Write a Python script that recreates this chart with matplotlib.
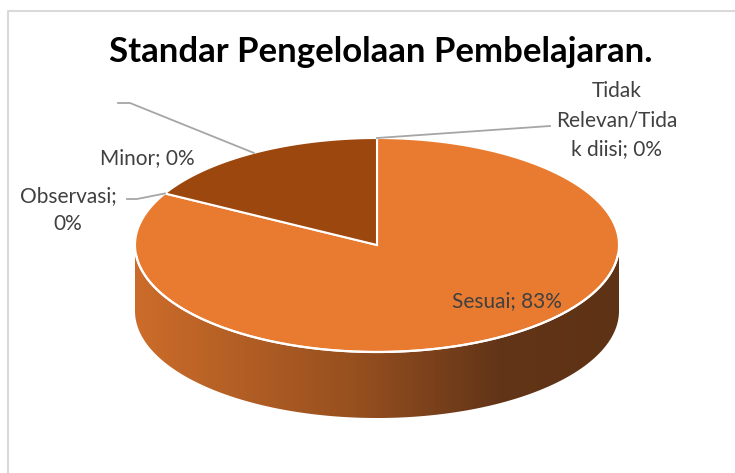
import numpy as np
import matplotlib.pyplot as plt
from matplotlib.patches import Polygon
from matplotlib.colors import LinearSegmentedColormap

# data
kategori = ["Sesuai", "Observasi", "Minor", "Mayor", "Tidak Relevan/Tidak diisi"]
nilai = [83, 0, 0, 17, 0]
warna = ["#E97B31", "#E97B31", "#A04A10", "#9C470E", "#E97B31"]
label_teks = ["Sesuai; 83%", "Observasi;\n0%", "Minor; 0%", "", "Tidak\nRelevan/Tida\nk diisi; 0%"]

# geometri pie (piksel)
cx, cy = 377, 245
a, b = 242, 107
tebal = 66

fig = plt.figure(figsize=(7.35, 4.73), dpi=100)
ax = fig.add_axes([0, 0, 1, 1])
ax.set_xlim(0, 735)
ax.set_ylim(473, 0)
ax.axis("off")

# bingkai chart
ax.plot([8.5, 8.5, 735], [473, 11.5, 11.5], color="#d9d9d9", lw=1.5)


def titik(t):
    t = np.radians(t)
    return cx + a * np.cos(t), cy - b * np.sin(t)


# sudut: mulai jam 12, searah jarum jam
total = sum(nilai)
sudut = [90.0]
for v in nilai:
    sudut.append(sudut[-1] - 360.0 * v / total)

# dinding samping (depan) dengan gradasi
t = np.linspace(180, 360, 200)
xs, ys = titik(t)
sisi = np.concatenate([np.column_stack([xs, ys]),
                       np.column_stack([xs[::-1], ys[::-1] + tebal])])
poly_sisi = Polygon(sisi, closed=True, facecolor="none", edgecolor="none")
ax.add_patch(poly_sisi)
cmap = LinearSegmentedColormap.from_list(
    "sisi", [(0, "#CC6C2A"), (0.45, "#97501F"), (0.75, "#633518"), (1, "#5E3214")])
grad = np.linspace(0, 1, 400).reshape(1, -1)
im = ax.imshow(grad, cmap=cmap, aspect="auto",
               extent=[cx - a, cx + a, cy + b + tebal + 2, cy - 5], zorder=1)
im.set_clip_path(poly_sisi)

# permukaan atas
for i, v in enumerate(nilai):
    if v == 0:
        continue
    t = np.linspace(sudut[i], sudut[i + 1], 200)
    xs, ys = titik(t)
    pts = np.vstack([[cx, cy], np.column_stack([xs, ys])])
    ax.add_patch(Polygon(pts, closed=True, facecolor=warna[i],
                         edgecolor="white", lw=1.5, zorder=2))

# garis tepi putih depan
t = np.linspace(185, 355, 200)
xs, ys = titik(t)
ax.plot(xs, ys, color="white", lw=1.6, zorder=3)

# judul
ax.text(381, 52, "Standar Pengelolaan Pembelajaran.", ha="center", va="center",
        fontsize=25, fontweight="bold", family="Lato", color="black")

teks = dict(fontsize=15, family="Lato", color="#404040", ha="center", va="center",
            linespacing=1.55, zorder=5)
garis = dict(color="#a6a6a6", lw=1.3, zorder=4)

# Sesuai
ax.text(507, 301, label_teks[0], **teks)

# Observasi (batas Sesuai / Mayor)
x0, y0 = titik(sudut[1])
ax.plot([x0, 137, 127], [y0, 199, 199], **garis)
ax.text(68, 210, label_teks[1], **teks)

# Minor
ax.text(147, 158, label_teks[2], **teks)

# Mayor (label kosong)
x0, y0 = titik((sudut[3] + sudut[4]) / 2)
ax.plot([x0, 130, 118], [y0, 103, 103], **garis)
ax.text(110, 103, label_teks[3], **teks)

# Tidak Relevan
x0, y0 = titik(sudut[4])
ax.plot([x0, 550], [y0, 126], **garis)
ax.text(617, 120, label_teks[4], **teks)

fig.savefig("out.png", dpi=100)
